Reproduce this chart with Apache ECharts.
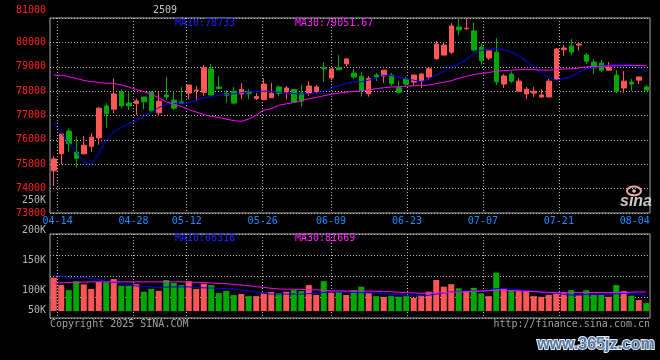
<!DOCTYPE html>
<html><head><meta charset="utf-8">
<script src="https://cdn.jsdelivr.net/npm/echarts@6/dist/echarts.min.js"></script>
<style>html,body{margin:0;padding:0;background:#000;}#c{width:660px;height:360px;}</style>
</head><body><div id="c"></div>
<script>
// ---- data ----
const dates = ['04-11','04-14','04-15','04-16','04-17','04-18','04-21','04-22','04-23','04-24','04-25','04-28','04-29','04-30',
 '05-06','05-07','05-08','05-09','05-12','05-13','05-14','05-15','05-16','05-19','05-20','05-21','05-22','05-23',
 '05-26','05-27','05-28','05-29','05-30','06-03','06-04','06-05','06-06','06-09','06-10','06-11','06-12','06-13',
 '06-16','06-17','06-18','06-19','06-20','06-23','06-24','06-25','06-26','06-27','06-30','07-01','07-02','07-03','07-04',
 '07-07','07-08','07-09','07-10','07-11','07-14','07-15','07-16','07-17','07-18','07-21','07-22','07-23','07-24','07-25',
 '07-28','07-29','07-30','07-31','08-01','08-04','08-05','08-06'];
const opens  = [74730,75430,76360,75500,75430,75740,76080,77390,77260,77970,77510,77500,77760,77960,77110,77840,77630,77560,77920,78030,
 77950,78910,78170,77910,77990,77880,77990,77700,77650,77730,78170,77960,78070,77920,77910,77990,78960,78540,78960,79120,
 78740,78610,77890,78660,78620,78660,78140,78500,78370,78410,78580,79330,79480,79600,80630,80560,80470,79810,79360,79600,
 78290,78700,78000,77880,77920,77760,77760,78470,79700,79850,79890,79480,79190,79150,78860,78660,78130,78370,78450,78170];
const closes = [75220,76240,75840,75240,75780,76110,77300,77070,77880,77400,77400,77600,77560,77190,77590,77760,77300,77500,78250,78040,
 78960,77840,78100,77830,77510,78070,77910,77780,78290,77910,77910,78130,77550,77590,78210,78170,78920,78910,78880,79320,
 78580,78040,78520,78580,78860,78300,77950,78290,78660,78700,78920,79930,79890,80670,80510,80580,79690,79250,79650,78380,
 78620,78410,78410,78080,78000,77840,78410,79730,79770,79600,79930,79230,78950,78860,78980,78000,78410,78290,78580,78040];
const lows   = [74110,75000,75510,74870,75400,75510,75800,76500,77100,77300,77220,77020,77250,77140,76980,77630,77220,77500,77670,77590,
 77810,77840,78070,77520,77470,77670,77670,77630,77650,77730,77800,77670,77550,77360,77800,77910,78380,78450,78880,79020,
 78500,77770,77770,78410,78340,78210,77890,78210,78210,78130,78450,79280,79480,79520,80300,80510,79620,79070,79280,78250,
 78130,78330,78000,77670,77760,77720,77760,78470,79440,79480,79650,79110,78700,78780,78860,77920,77920,78000,78290,78040];
const highs  = [75330,76280,76470,76120,76150,76280,77350,77510,78520,78070,78000,77700,77760,78000,77960,78580,77990,78170,78250,78210,
 79080,79120,78620,78040,78170,78330,78070,77920,78520,78340,78250,78210,78070,78250,78410,78250,79190,78910,79480,79360,
 78910,78800,78620,78740,78860,78740,78410,78590,78660,78740,78920,80060,80010,80800,80990,80990,80800,79970,79650,80180,
 78700,78820,78540,78170,78170,78080,78500,79770,79890,80140,80010,79560,79320,79280,79190,78860,78820,78500,78580,78250];
const priceMA10 = [76690,76280,75870,75500,75090,75000,75440,75990,76340,76500,76670,76790,76960,77140,77320,77470,77490,77510,77520,77630,
 77740,77770,77830,77870,77890,77930,77970,77990,78000,77980,77960,77920,77900,77880,77890,77910,78010,78100,78210,78320,
 78380,78380,78450,78540,78650,78630,78570,78500,78450,78390,78500,78660,78800,78970,79130,79300,79550,79670,79720,79730,
 79710,79600,79450,79230,79030,78760,78540,78450,78520,78600,78770,78910,78980,79030,79070,79100,79110,79090,78990,78800];
const priceMA30 = [78660,78650,78590,78520,78440,78390,78360,78320,78320,78250,78170,78060,77980,77880,77720,77560,77470,77370,77240,77140,
 77040,76960,76920,76850,76790,76760,76850,77020,77220,77280,77420,77480,77530,77610,77690,77740,77810,77870,77920,77960,
 77990,78010,78050,78100,78140,78170,78180,78200,78220,78230,78250,78310,78360,78430,78520,78610,78680,78730,78760,78820,
 78840,78860,78880,78890,78880,78860,78860,78880,78910,78910,78950,79000,79010,79020,79030,79040,79040,79050,79050,79050];
const volumesK = [145,113,91,130,116,96,126,125,139,110,110,117,84,96,88,135,122,113,130,96,
 119,113,78,88,70,74,65,65,80,83,78,84,91,87,113,70,130,80,84,70,
 91,106,78,65,61,65,62,65,58,70,84,135,106,117,99,87,101,77,65,167,
 99,91,87,87,65,62,70,81,80,91,68,91,70,70,62,113,87,67,48,35];
const volMA10K = [155,153,143,144,146,142,137,130,125,120,113,109,107,105,103,104,105,105,105,103,
 101,100,98,97,96,91,87,82,77,74,74,74,74,74,76,77,81,84,83,82,
 81,80,80,79,76,73,71,69,66,67,69,74,79,83,86,87,87,88,91,98,
 98,96,93,90,86,82,80,77,73,70,72,73,73,73,73,75,77,75,73,67];
const volMA30K = [121,123,124,125,126,127,127,127,127,127,127,127,127,127,127,127,127,127,126,125,
 124,122,120,119,116,113,110,106,103,99,96,95,95,94,93,92,91,88,88,87,
 87,87,87,86,85,84,82,80,79,77,78,79,80,82,83,84,86,87,89,91,
 90,89,88,86,85,83,82,80,80,80,81,81,81,81,81,81,81,82,83,83];
const labelDates = ['04-14','04-28','05-12','05-26','06-09','06-23','07-07','07-21','08-04'];
const gridLineDates = ['04-14','04-28','05-12','05-26','06-09','06-23','07-07','07-21'];
const priceMin = 73000, priceMax = 81000, priceStep = 1000;
const volLabelValuesK = [50,100,150,200,250];
const contract = '2509';
const priceMALabels = ['MA10:78733', 'MA30:79051.67'];
const volMALabels = ['MA10:68318', 'MA30:81669'];

// ---- chart ----
const UP = '#ff5656', DOWN = '#00a800';
const mono = '"DejaVu Sans Mono", monospace';
const dotted = {show:true, lineStyle:{color:'#bcbcbc', width:1, type:[1,2]}};
const labelIdx = labelDates.map(d => dates.indexOf(d));
const gridIdx = gridLineDates.map(d => dates.indexOf(d));
const volumes = volumesK.map(v => v * 1000);
const volMA10 = volMA10K.map(v => v * 1000);
const volMA30 = volMA30K.map(v => v * 1000);

function txt(x, y, text, fill, font, align) {
  return {type:'text', x:x, y:y, silent:true, z:100,
    style:{text:text, fill:fill, font:font, align:align||'left', textAlign:align||'left', verticalAlign:'middle', textVerticalAlign:'middle'}};
}

const chart = echarts.init(document.getElementById('c'));
chart.setOption({
  backgroundColor:'#000',
  animation:false,
  grid:[
    {left:50, right:10, top:18, height:195, show:true, borderColor:'#a8a8a8', borderWidth:1},
    {left:50, right:10, top:234, height:84, show:true, borderColor:'#a8a8a8', borderWidth:1},
    {left:50, right:10, top:200, height:150, show:false}
  ],
  xAxis:[
    {type:'category', gridIndex:0, data:dates, position:'top', show:false, boundaryGap:true},
    {type:'category', gridIndex:1, data:dates, position:'top', show:false, boundaryGap:true},
    {type:'value', gridIndex:0, position:'bottom', min:0, max:dates.length-1,
      axisLine:{show:false}, axisTick:{show:false, customValues:gridIdx}, splitLine:dotted,
      axisLabel:{customValues:labelIdx, formatter:v => dates[Math.round(v)], color:'#1e8cff', fontFamily:mono, fontSize:10, margin:3}},
    {type:'value', gridIndex:1, position:'bottom', min:0, max:dates.length-1,
      axisLine:{show:false}, axisTick:{show:false, customValues:gridIdx}, splitLine:dotted, axisLabel:{show:false}},
    {type:'value', gridIndex:2, show:false, min:0, max:1}
  ],
  yAxis:[
    {type:'value', gridIndex:0, min:priceMin, max:priceMax, interval:priceStep,
      axisLine:{show:false}, axisTick:{show:false}, splitLine:dotted,
      axisLabel:{margin:4, formatter:v => v === priceMax ? '{top|' + v + '}' : '{n|' + v + '}',
        rich:{top:{color:'#ff2020', fontFamily:mono, fontSize:10, padding:[0,0,16,0]},
              n:{color:'#ff2020', fontFamily:mono, fontSize:10}}}},
    {type:'value', gridIndex:1, min:-30000, max:335000, interval:91250,
      axisLine:{show:false}, axisTick:{show:false}, axisLabel:{show:false}, splitLine:dotted},
    {type:'value', gridIndex:2, min:0, max:250, interval:50,
      axisLine:{show:false}, axisTick:{show:false}, splitLine:{show:false},
      axisLabel:{margin:4, customValues:volLabelValuesK,
        formatter:v => v === volLabelValuesK[0] ? '{low|' + v + 'K}' : '{n|' + v + 'K}',
        rich:{low:{color:'#b4b4b4', fontFamily:mono, fontSize:10, padding:[0,0,20,0]},
              n:{color:'#b4b4b4', fontFamily:mono, fontSize:10}}}}
  ],
  series:[
    {type:'candlestick', xAxisIndex:0, yAxisIndex:0, barWidth:5,
      data:opens.map((o,i) => [o, closes[i], lows[i], highs[i]]),
      itemStyle:{color:UP, color0:DOWN, borderColor:UP, borderColor0:DOWN, borderColorDoji:UP, borderWidth:1}},
    {type:'line', xAxisIndex:0, yAxisIndex:0, data:priceMA10, symbol:'none', lineStyle:{color:'#0000ff', width:1}},
    {type:'line', xAxisIndex:0, yAxisIndex:0, data:priceMA30, symbol:'none', lineStyle:{color:'#ff00ff', width:1}},
    {type:'bar', xAxisIndex:1, yAxisIndex:1, barWidth:6,
      data:volumes.map((v,i) => ({value:v, itemStyle:{color: closes[i] >= opens[i] ? UP : DOWN}}))},
    {type:'line', xAxisIndex:1, yAxisIndex:1, data:volMA10, symbol:'none', lineStyle:{color:'#0000ff', width:1}},
    {type:'line', xAxisIndex:1, yAxisIndex:1, data:volMA30, symbol:'none', lineStyle:{color:'#ff00ff', width:1}}
  ],
  graphic:[
    txt(165, 10, contract, '#c8c8c8', '10px ' + mono, 'center'),
    txt(175, 23, priceMALabels[0], '#2020ff', '10px ' + mono),
    txt(295, 23, priceMALabels[1], '#ff20ff', '10px ' + mono),
    txt(175, 238, volMALabels[0], '#2020ff', '10px ' + mono),
    txt(295, 238, volMALabels[1], '#ff20ff', '10px ' + mono),
    txt(50, 324, 'Copyright 2025 SINA.COM', '#a0a0a0', '10px ' + mono),
    txt(650, 324, 'http://finance.sina.com.cn', '#a0a0a0', '10px ' + mono, 'right'),
    {type:'ellipse', silent:true, z:100, shape:{cx:634, cy:191, rx:7, ry:4.5},
      style:{fill:'none', stroke:'#f0a0a0', lineWidth:2}},
    {type:'circle', silent:true, z:100, shape:{cx:634, cy:191, r:1.8}, style:{fill:'#c8c8c8'}},
    txt(636, 202, 'sina', '#c8c8c8', 'italic bold 16px "Liberation Sans"', 'center'),
    {type:'text', x:596, y:345, silent:true, z:100,
      style:{text:'www.365jz.com', font:'bold 16px "Liberation Sans"', fill:'#557aa8',
        stroke:'#e6edf5', lineWidth:2, align:'center', textAlign:'center', verticalAlign:'middle', textVerticalAlign:'middle',
        shadowColor:'rgba(20,40,70,0.9)', shadowBlur:2, shadowOffsetX:1, shadowOffsetY:1}}
  ]
});
</script></body></html>
